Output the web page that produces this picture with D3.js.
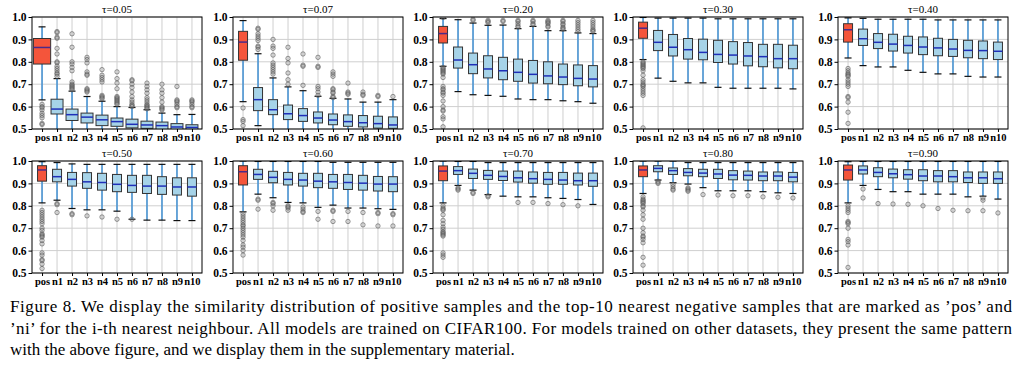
<!DOCTYPE html>
<html>
<head>
<meta charset="utf-8">
<script src="https://cdn.jsdelivr.net/npm/d3@7"></script>
<style>
  html, body { margin: 0; padding: 0; background: #fff; }
  svg { display: block; }
  svg text { font-family: 'Liberation Serif', 'Times New Roman', Times, serif; }
</style>
</head>
<body>
<svg id="chart" width="1024" height="370"></svg>
<script>
// Similarity distribution of pos / n1..n10 for each temperature τ (CIFAR100)

const taus = ['0.05', '0.07', '0.20', '0.30', '0.40', '0.50', '0.60', '0.70', '0.80', '0.90'];
const categories = ['pos', 'n1', 'n2', 'n3', 'n4', 'n5', 'n6', 'n7', 'n8', 'n9', 'n10'];
const yTicks = [0.5, 0.6, 0.7, 0.8, 0.9, 1.0];

// one row per panel, one value per category
const upperWhisker = [
  [0.956, 0.725, 0.669, 0.645, 0.624, 0.600, 0.596, 0.586, 0.571, 0.564, 0.565],
  [0.984, 0.836, 0.728, 0.688, 0.671, 0.646, 0.637, 0.634, 0.620, 0.620, 0.631],
  [0.993, 0.988, 0.973, 0.963, 0.964, 0.948, 0.958, 0.939, 0.939, 0.929, 0.926],
  [0.998, 0.995, 0.995, 0.995, 0.995, 0.992, 0.992, 0.992, 0.992, 0.992, 0.992],
  [0.996, 0.994, 0.990, 0.990, 0.990, 0.990, 0.987, 0.987, 0.987, 0.987, 0.987],
  [0.997, 0.993, 0.987, 0.985, 0.985, 0.985, 0.985, 0.985, 0.985, 0.985, 0.985],
  [1.000, 0.998, 0.998, 0.998, 0.998, 0.998, 0.994, 0.994, 0.994, 0.994, 0.994],
  [1.000, 0.998, 0.998, 0.993, 0.993, 0.993, 0.993, 0.993, 0.993, 0.993, 0.993],
  [1.000, 1.000, 1.000, 0.993, 0.993, 0.993, 0.993, 0.993, 0.993, 0.993, 0.993],
  [0.997, 0.998, 0.998, 0.998, 0.998, 0.998, 0.998, 0.998, 0.998, 0.998, 0.998]
];
const q3 = [
  [0.904, 0.633, 0.589, 0.571, 0.562, 0.549, 0.544, 0.535, 0.531, 0.524, 0.519],
  [0.936, 0.685, 0.631, 0.607, 0.591, 0.576, 0.567, 0.563, 0.560, 0.557, 0.554],
  [0.958, 0.866, 0.839, 0.827, 0.820, 0.812, 0.806, 0.800, 0.790, 0.786, 0.783],
  [0.977, 0.940, 0.922, 0.904, 0.901, 0.896, 0.890, 0.886, 0.878, 0.878, 0.874],
  [0.970, 0.946, 0.926, 0.923, 0.914, 0.911, 0.905, 0.900, 0.896, 0.893, 0.888],
  [0.979, 0.963, 0.949, 0.948, 0.945, 0.940, 0.936, 0.936, 0.930, 0.925, 0.925],
  [0.979, 0.963, 0.954, 0.949, 0.945, 0.945, 0.940, 0.940, 0.936, 0.931, 0.930],
  [0.978, 0.975, 0.964, 0.958, 0.955, 0.955, 0.951, 0.949, 0.949, 0.946, 0.946],
  [0.978, 0.979, 0.969, 0.966, 0.963, 0.963, 0.957, 0.955, 0.951, 0.951, 0.949],
  [0.982, 0.978, 0.970, 0.964, 0.961, 0.961, 0.957, 0.957, 0.951, 0.951, 0.951]
];
const medians = [
  [0.864, 0.589, 0.564, 0.553, 0.541, 0.533, 0.521, 0.518, 0.515, 0.509, 0.507],
  [0.888, 0.631, 0.586, 0.568, 0.560, 0.549, 0.540, 0.533, 0.528, 0.524, 0.518],
  [0.926, 0.808, 0.787, 0.768, 0.760, 0.753, 0.744, 0.737, 0.732, 0.726, 0.723],
  [0.950, 0.887, 0.865, 0.854, 0.842, 0.833, 0.830, 0.826, 0.823, 0.814, 0.814],
  [0.943, 0.903, 0.887, 0.879, 0.873, 0.866, 0.862, 0.857, 0.851, 0.850, 0.847],
  [0.960, 0.930, 0.918, 0.907, 0.904, 0.896, 0.891, 0.888, 0.888, 0.884, 0.884],
  [0.952, 0.940, 0.927, 0.918, 0.915, 0.910, 0.907, 0.904, 0.901, 0.897, 0.897],
  [0.955, 0.957, 0.945, 0.936, 0.931, 0.925, 0.921, 0.918, 0.915, 0.912, 0.912],
  [0.960, 0.967, 0.957, 0.949, 0.946, 0.942, 0.937, 0.936, 0.933, 0.933, 0.928],
  [0.960, 0.960, 0.949, 0.943, 0.939, 0.933, 0.933, 0.930, 0.925, 0.925, 0.921]
];
const q1 = [
  [0.790, 0.567, 0.538, 0.527, 0.515, 0.512, 0.505, 0.503, 0.495, 0.490, 0.490],
  [0.807, 0.582, 0.564, 0.542, 0.534, 0.527, 0.519, 0.512, 0.509, 0.504, 0.503],
  [0.884, 0.772, 0.747, 0.728, 0.720, 0.713, 0.705, 0.702, 0.698, 0.693, 0.688],
  [0.905, 0.850, 0.826, 0.812, 0.809, 0.797, 0.790, 0.782, 0.778, 0.773, 0.769],
  [0.888, 0.873, 0.859, 0.848, 0.839, 0.832, 0.827, 0.824, 0.818, 0.814, 0.810],
  [0.910, 0.907, 0.888, 0.878, 0.870, 0.863, 0.860, 0.855, 0.851, 0.848, 0.843],
  [0.893, 0.918, 0.903, 0.893, 0.888, 0.881, 0.878, 0.873, 0.870, 0.866, 0.863],
  [0.912, 0.940, 0.922, 0.918, 0.913, 0.906, 0.901, 0.896, 0.896, 0.893, 0.887],
  [0.930, 0.952, 0.940, 0.934, 0.930, 0.922, 0.916, 0.915, 0.912, 0.912, 0.907],
  [0.915, 0.942, 0.930, 0.925, 0.919, 0.912, 0.907, 0.907, 0.904, 0.900, 0.900]
];
// values below 0.5 run off the bottom of the axes
const lowerWhisker = [
  [0.630, 0.440, 0.440, 0.440, 0.440, 0.440, 0.440, 0.440, 0.440, 0.440, 0.440],
  [0.622, 0.515, 0.440, 0.440, 0.440, 0.440, 0.440, 0.440, 0.440, 0.440, 0.440],
  [0.780, 0.667, 0.653, 0.650, 0.646, 0.634, 0.631, 0.631, 0.626, 0.622, 0.615],
  [0.810, 0.727, 0.713, 0.706, 0.706, 0.686, 0.682, 0.682, 0.682, 0.682, 0.679],
  [0.817, 0.783, 0.777, 0.777, 0.762, 0.753, 0.746, 0.746, 0.735, 0.732, 0.732],
  [0.813, 0.825, 0.788, 0.782, 0.782, 0.776, 0.740, 0.736, 0.736, 0.734, 0.734],
  [0.773, 0.852, 0.836, 0.815, 0.813, 0.793, 0.803, 0.790, 0.790, 0.787, 0.784],
  [0.813, 0.891, 0.870, 0.850, 0.843, 0.840, 0.840, 0.836, 0.833, 0.828, 0.806],
  [0.855, 0.915, 0.903, 0.897, 0.881, 0.867, 0.867, 0.867, 0.863, 0.858, 0.855],
  [0.813, 0.891, 0.873, 0.863, 0.863, 0.852, 0.852, 0.852, 0.840, 0.843, 0.830]
];
const outliers = [
  [
    [0.61, 0.60, 0.595, 0.585, 0.57, 0.56, 0.55, 0.525, 0.52],
    [0.935, 0.93, 0.91, 0.905, 0.86, 0.835, 0.80, 0.795, 0.78, 0.77, 0.76, 0.75, 0.745, 0.735],
    [0.925, 0.865, 0.80, 0.79, 0.775, 0.76, 0.71, 0.70, 0.695, 0.69, 0.685, 0.68, 0.675],
    [0.82, 0.81, 0.795, 0.755, 0.745, 0.74, 0.68, 0.675, 0.67, 0.665],
    [0.765, 0.74, 0.73, 0.72, 0.71, 0.65, 0.645, 0.64, 0.635],
    [0.755, 0.725, 0.705, 0.68, 0.645, 0.64, 0.635, 0.63, 0.625, 0.62, 0.615, 0.61],
    [0.72, 0.715, 0.70, 0.685, 0.665, 0.645, 0.63, 0.62, 0.61, 0.605, 0.60],
    [0.705, 0.69, 0.675, 0.66, 0.64, 0.63, 0.62, 0.61, 0.605, 0.60, 0.595, 0.59],
    [0.70, 0.675, 0.66, 0.64, 0.62, 0.60, 0.595, 0.59, 0.585],
    [0.69, 0.63, 0.625, 0.62, 0.61, 0.60, 0.595],
    [0.63, 0.625, 0.62, 0.61, 0.60, 0.595]
  ],
  [
    [0.594, 0.542, 0.534, 0.515],
    [0.95, 0.945, 0.925, 0.915, 0.905, 0.895, 0.87, 0.865, 0.855],
    [0.90, 0.87, 0.86, 0.83, 0.795, 0.785, 0.775, 0.765, 0.755, 0.745],
    [0.865, 0.815, 0.795, 0.75, 0.72, 0.70],
    [0.835, 0.785, 0.78, 0.695],
    [0.82, 0.78, 0.775, 0.69, 0.68, 0.665, 0.65],
    [0.755, 0.745, 0.735, 0.68, 0.675, 0.665, 0.66, 0.645, 0.64],
    [0.705, 0.665, 0.66, 0.655],
    [0.665, 0.655, 0.65],
    [0.65, 0.645],
    [0.645]
  ],
  [
    [0.998, 0.775, 0.77, 0.765, 0.76, 0.755, 0.75, 0.745, 0.73, 0.69, 0.68, 0.675, 0.665, 0.66, 0.65, 0.625, 0.60, 0.585, 0.58, 0.555, 0.545, 0.51],
    [],
    [0.99, 0.985],
    [0.985, 0.98, 0.975],
    [0.985, 0.98],
    [0.985, 0.98, 0.97, 0.96, 0.955],
    [0.985, 0.98, 0.97, 0.965],
    [0.985, 0.98, 0.975, 0.97, 0.96, 0.955],
    [0.985, 0.98, 0.97, 0.965, 0.955, 0.95, 0.945],
    [0.985, 0.975, 0.965, 0.955, 0.945, 0.935],
    [0.985, 0.975, 0.965, 0.955, 0.945, 0.94, 0.935]
  ],
  [
    [0.80, 0.795, 0.79, 0.785, 0.78, 0.775, 0.77, 0.76, 0.74, 0.72, 0.71, 0.70, 0.695, 0.69, 0.68, 0.67, 0.66, 0.65, 0.505],
    [], [], [], [], [], [], [], [], [], []
  ],
  [
    [0.77, 0.76, 0.75, 0.745, 0.74, 0.735, 0.72, 0.71, 0.70, 0.69, 0.645, 0.64, 0.62, 0.575, 0.525],
    [], [], [], [], [], [], [], [], [], []
  ],
  [
    [0.78, 0.77, 0.76, 0.75, 0.74, 0.73, 0.72, 0.70, 0.69, 0.675, 0.67, 0.665, 0.66, 0.645, 0.63, 0.59, 0.58, 0.56, 0.555, 0.54, 0.52],
    [0.81, 0.805, 0.77],
    [0.765, 0.76],
    [0.755],
    [0.75],
    [0.74],
    [0.74],
    [], [], [], []
  ],
  [
    [0.765, 0.755, 0.745, 0.735, 0.725, 0.715, 0.71, 0.70, 0.69, 0.68, 0.67, 0.66, 0.645, 0.625, 0.615, 0.60, 0.58],
    [0.83, 0.825, 0.785],
    [0.815, 0.81, 0.80, 0.78],
    [0.80, 0.795, 0.79, 0.78],
    [0.795, 0.785, 0.775, 0.77],
    [0.775, 0.74],
    [0.78, 0.775, 0.73],
    [0.775, 0.73],
    [0.77, 0.715],
    [0.77, 0.765, 0.71],
    [0.765, 0.76, 0.71]
  ],
  [
    [0.80, 0.79, 0.785, 0.78, 0.76, 0.735, 0.72, 0.705, 0.695, 0.685, 0.68, 0.675, 0.67, 0.665, 0.59, 0.58, 0.57],
    [0.88, 0.875, 0.87],
    [0.86, 0.855],
    [0.845, 0.84],
    [],
    [0.815],
    [0.815],
    [0.81],
    [0.805],
    [0.80],
    []
  ],
  [
    [0.84, 0.83, 0.825, 0.82, 0.815, 0.81, 0.80, 0.795, 0.78, 0.76, 0.74, 0.70, 0.68, 0.665, 0.66, 0.65, 0.635, 0.57, 0.535],
    [0.91, 0.905, 0.90],
    [0.895, 0.885, 0.875, 0.87],
    [0.88, 0.875, 0.87, 0.865],
    [0.85],
    [0.848],
    [0.845],
    [0.845],
    [0.84],
    [0.838],
    [0.835]
  ],
  [
    [0.80, 0.79, 0.78, 0.77, 0.73, 0.725, 0.72, 0.70, 0.65, 0.64, 0.625, 0.525],
    [0.875, 0.835],
    [0.81],
    [0.808],
    [0.807],
    [0.80],
    [0.788],
    [0.78],
    [0.778],
    [0.835, 0.825, 0.778],
    [0.768]
  ]
];

const caption = [
  'Figure 8. We display the similarity distribution of positive samples and the top-10 nearest negative samples that are marked as \u2019pos\u2019 and',
  '\u2019ni\u2019 for the i-th nearest neighbour. All models are trained on CIFAR100. For models trained on other datasets, they present the same pattern',
  'with the above figure, and we display them in the supplementary material.'
];

// ── Layout ──
const panelLefts = [32, 233, 433, 633, 838];
const panelWidth = 170;
const rowTops = [17, 161];
const panelHeight = 112;
const serif = "'Liberation Serif', 'Times New Roman', Times, serif";

const svg = d3.select('#chart');
svg.append('rect').attr('width', 1024).attr('height', 370).attr('fill', '#fff');

taus.forEach((tau, p) => {
  const left = panelLefts[p % 5];
  const top = rowTops[Math.floor(p / 5)];
  const bottom = top + panelHeight;

  const x = d3.scalePoint().domain(categories).range([left, left + panelWidth]).padding(0.67);
  const y = d3.scaleLinear().domain([0.5, 1.0]).range([bottom, top]);
  const step = x.step();
  const boxW = p === 0 ? step * 0.8 : step * 0.6;

  const g = svg.append('g');

  g.append('clipPath').attr('id', `clip${p}`)
    .append('rect')
    .attr('x', left).attr('y', top)
    .attr('width', panelWidth).attr('height', panelHeight);

  // grid
  g.selectAll('.hgrid')
    .data(yTicks)
    .enter()
    .append('line')
    .attr('x1', left).attr('x2', left + panelWidth)
    .attr('y1', d => y(d)).attr('y2', d => y(d))
    .attr('stroke', '#cfcfcf').attr('stroke-width', 1);
  g.selectAll('.vgrid')
    .data(categories)
    .enter()
    .append('line')
    .attr('x1', d => x(d)).attr('x2', d => x(d))
    .attr('y1', top).attr('y2', bottom)
    .attr('stroke', '#cfcfcf').attr('stroke-width', 1);

  const boxes = categories.map((c, i) => ({
    c, i,
    hi: upperWhisker[p][i], q3: q3[p][i], med: medians[p][i], q1: q1[p][i], lo: lowerWhisker[p][i],
    fliers: outliers[p][i],
    w: (p === 0 && i === 0) ? step * 1.15 : boxW
  }));

  const marks = g.append('g').attr('clip-path', `url(#clip${p})`);

  // whiskers
  marks.selectAll('.whisker-up')
    .data(boxes)
    .enter()
    .append('line')
    .attr('x1', d => x(d.c)).attr('x2', d => x(d.c))
    .attr('y1', d => y(d.hi)).attr('y2', d => y(d.q3))
    .attr('stroke', '#4a95d4').attr('stroke-width', 1.6);
  marks.selectAll('.whisker-down')
    .data(boxes)
    .enter()
    .append('line')
    .attr('x1', d => x(d.c)).attr('x2', d => x(d.c))
    .attr('y1', d => y(d.q1)).attr('y2', d => y(d.lo))
    .attr('stroke', '#4a95d4').attr('stroke-width', 1.6);

  // caps
  const caps = boxes.flatMap(d => [{ c: d.c, v: d.hi }, { c: d.c, v: d.lo }]);
  marks.selectAll('.cap')
    .data(caps)
    .enter()
    .append('line')
    .attr('x1', d => x(d.c) - 3.5).attr('x2', d => x(d.c) + 3.5)
    .attr('y1', d => y(d.v)).attr('y2', d => y(d.v))
    .attr('stroke', '#111').attr('stroke-width', 1.2);

  // fliers
  const fliers = boxes.flatMap(d => d.fliers.map(v => ({ c: d.c, v })));
  marks.selectAll('.flier')
    .data(fliers)
    .enter()
    .append('circle')
    .attr('cx', d => x(d.c))
    .attr('cy', d => y(d.v))
    .attr('r', 2.2)
    .attr('fill', '#888').attr('fill-opacity', 0.25)
    .attr('stroke', '#555').attr('stroke-opacity', 0.65).attr('stroke-width', 0.9);

  // boxes
  marks.selectAll('.box')
    .data(boxes)
    .enter()
    .append('rect')
    .attr('x', d => x(d.c) - d.w / 2)
    .attr('y', d => y(d.q3))
    .attr('width', d => d.w)
    .attr('height', d => y(d.q1) - y(d.q3))
    .attr('fill', d => d.i === 0 ? '#f4553b' : '#a6d3e8')
    .attr('stroke', '#333').attr('stroke-width', 1);

  // medians
  marks.selectAll('.median')
    .data(boxes)
    .enter()
    .append('line')
    .attr('x1', d => x(d.c) - d.w / 2).attr('x2', d => x(d.c) + d.w / 2)
    .attr('y1', d => y(d.med)).attr('y2', d => y(d.med))
    .attr('stroke', d => d.i === 0 ? '#4a2a8a' : '#1f2fb8').attr('stroke-width', 1.5);

  // frame
  g.append('rect')
    .attr('x', left).attr('y', top)
    .attr('width', panelWidth).attr('height', panelHeight)
    .attr('fill', 'none').attr('stroke', '#000').attr('stroke-width', 1);

  // axes
  const yAxis = g.append('g')
    .attr('transform', `translate(${left},0)`)
    .call(d3.axisLeft(y).tickValues(yTicks).tickFormat(d3.format('.1f')).tickSize(3.5).tickPadding(2));
  const xAxis = g.append('g')
    .attr('transform', `translate(0,${bottom})`)
    .call(d3.axisBottom(x).tickSize(3).tickPadding(2));
  [[yAxis, '11.5px'], [xAxis, '10.5px']].forEach(([a, size]) => {
    a.attr('font-family', null).attr('font-size', null);
    a.select('.domain').remove();
    a.selectAll('line').attr('stroke', '#000');
    a.selectAll('text')
      .style('font-family', serif)
      .style('font-weight', 'bold')
      .style('font-size', size)
      .attr('fill', '#000');
  });

  // title
  g.append('text')
    .attr('x', left + panelWidth / 2)
    .attr('y', top - 4)
    .attr('text-anchor', 'middle')
    .style('font-family', serif)
    .style('font-size', '11px')
    .attr('fill', '#000')
    .text(`\u03c4=${tau}`);
});

// ── Caption ──
svg.selectAll('.caption')
  .data(caption)
  .enter()
  .append('text')
  .attr('x', 10)
  .attr('y', (d, i) => 312 + i * 21.5)
  .style('font-family', serif)
  .style('font-size', '17px')
  .attr('fill', '#000')
  .each(function (d, i) {
    if (i < 2) d3.select(this).attr('textLength', 1002).attr('lengthAdjust', 'spacing');
  })
  .text(d => d);
</script>
</body>
</html>
